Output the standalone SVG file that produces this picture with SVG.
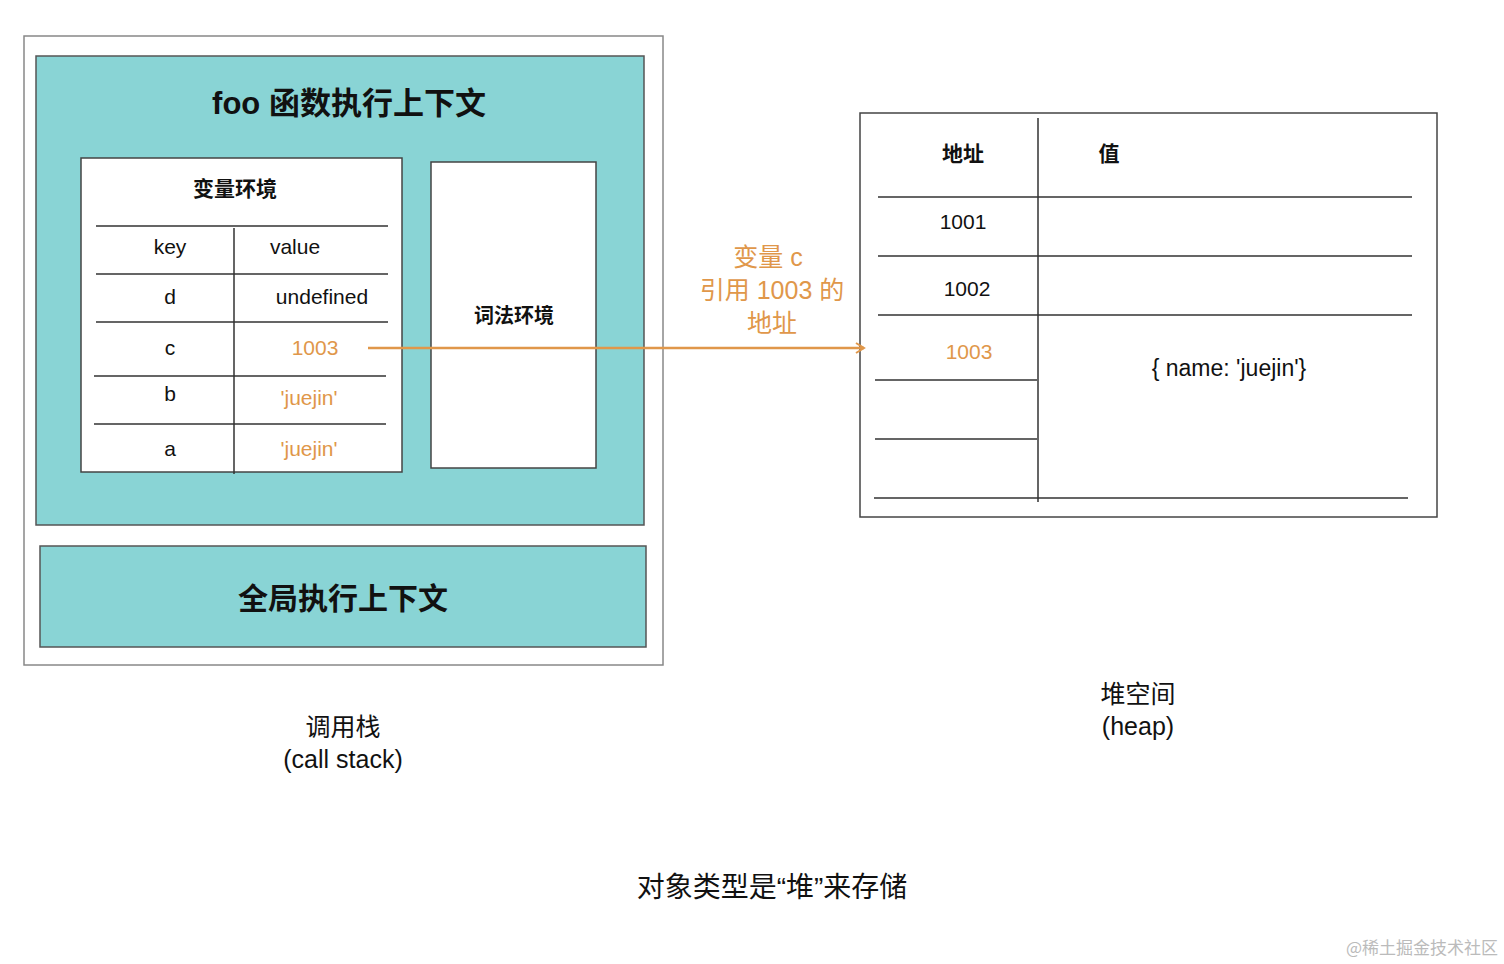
<svg xmlns="http://www.w3.org/2000/svg" width="1504" height="964" viewBox="0 0 1504 964">
<defs>
<style>
text{font-family:"Liberation Sans","Noto Sans CJK SC",sans-serif;fill:#111}
.t{text-anchor:middle}
.o{fill:#e0974a}
.ln{stroke:#333;stroke-width:1.5;fill:none}
.box{fill:#fff;stroke:#444;stroke-width:1.5}
.teal{fill:#89d4d5;stroke:#555;stroke-width:1.5}
</style>
<marker id="ar" markerWidth="12" markerHeight="12" refX="10" refY="6" orient="auto" markerUnits="userSpaceOnUse"><path d="M2,1 L10,6 L2,11" fill="none" stroke="#e0974a" stroke-width="2"/></marker>
</defs>
<rect width="1504" height="964" fill="#fff"/>
<g id="callstack">
<rect x="24" y="36" width="639" height="629" fill="#fff" stroke="#888" stroke-width="1.5"/>
<text class="t" x="343" y="736" font-size="25">调用栈</text>
<text class="t" x="343" y="768" font-size="25">(call stack)</text>
</g>
<g id="foo">
<rect class="teal" x="36" y="56" width="608" height="469"/>
<text class="t" x="349" y="114" font-size="31" font-weight="bold">foo 函数执行上下文</text>
</g>
<g id="varenv">
<rect class="box" x="81" y="158" width="321" height="314"/>
<text class="t" x="235" y="196" font-size="21" font-weight="bold">变量环境</text>
<path class="ln" d="M96,226H388M96,274H388M96,322H388M94,376H386M94,424H386M234,228V474"/>
<g font-size="21">
<text class="t" x="170" y="254">key</text><text class="t" x="295" y="254">value</text>
<text class="t" x="170" y="304">d</text><text class="t" x="322" y="304">undefined</text>
<text class="t" x="170" y="355">c</text><text class="t o" x="315" y="355">1003</text>
<text class="t" x="170" y="401">b</text><text class="t o" x="309" y="405">'juejin'</text>
<text class="t" x="170" y="456">a</text><text class="t o" x="309" y="456">'juejin'</text>
</g>
</g>
<g id="lexenv">
<rect class="box" x="431" y="162" width="165" height="306"/>
<text class="t" x="514" y="323" font-size="20" font-weight="bold">词法环境</text>
</g>
<g id="global">
<rect class="teal" x="40" y="546" width="606" height="101"/>
<text class="t" x="343" y="609" font-size="30" font-weight="bold">全局执行上下文</text>
</g>
<g id="heap">
<rect class="box" x="860" y="113" width="577" height="404" stroke="#666"/>
<path class="ln" d="M878,197H1412M878,256H1412M878,315H1412M875,380H1037M875,439H1037M874,498H1408M1038,118V502"/>
<g font-size="21">
<text class="t" x="963" y="161" font-weight="bold">地址</text>
<text class="t" x="1109" y="161" font-weight="bold">值</text>
<text class="t" x="963" y="229">1001</text>
<text class="t" x="967" y="296">1002</text>
<text class="t o" x="969" y="359">1003</text>
<text class="t" x="1229" y="376" font-size="23">{ name: 'juejin'}</text>
</g>
<text class="t" x="1138" y="703" font-size="25">堆空间</text>
<text class="t" x="1138" y="735" font-size="25">(heap)</text>
</g>
<g id="connectors">
<line x1="368" y1="348" x2="864" y2="348" stroke="#e0974a" stroke-width="2.5" marker-end="url(#ar)"/>
<g font-size="25">
<text class="t o" x="768" y="266">变量 c</text>
<text class="t o" x="772" y="299">引用 1003 的</text>
<text class="t o" x="772" y="332">地址</text>
</g>
</g>
<text class="t" x="772" y="897" font-size="28">对象类型是“堆”来存储</text>
<text x="1498" y="954" font-size="17" style="fill:#bbb;font-family:'Noto Sans CJK SC',serif" text-anchor="end">@稀土掘金技术社区</text>
</svg>
